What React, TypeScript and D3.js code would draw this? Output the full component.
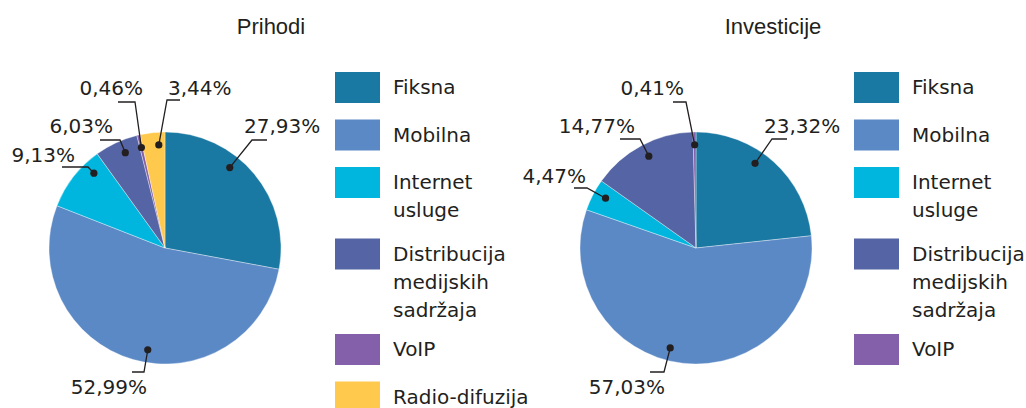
import React from "react";
import * as d3 from "d3";

const categories = ["Fiksna", "Mobilna", "Internet usluge", "Distribucija medijskih sadržaja", "VoIP", "Radio-difuzija"];
const legendLines = [["Fiksna"], ["Mobilna"], ["Internet", "usluge"], ["Distribucija", "medijskih", "sadržaja"], ["VoIP"], ["Radio-difuzija"]];
const prihodiValues = [27.93, 52.99, 9.13, 6.03, 0.46, 3.44];
const investicijeValues = [23.32, 57.03, 4.47, 14.77, 0.41];
const prihodiLabels = ["27,93%", "52,99%", "9,13%", "6,03%", "0,46%", "3,44%"];
const investicijeLabels = ["23,32%", "57,03%", "4,47%", "14,77%", "0,41%"];
const titles = ["Prihodi", "Investicije"];

const colors = ["#1a79a2", "#5b89c6", "#00b6de", "#5464a4", "#8460aa", "#fec94d"];

// label layout (relative to pie centre): elbow, horizontal end, text anchor
type LL = { ex: number; ey: number; hx: number; tx: number; ty: number; anchor: "start" | "end" };
const prihodiLayout: LL[] = [
  { ex: 87, ey: -108, hx: 102, tx: 79, ty: -115, anchor: "start" },
  { ex: -21, ey: 124, hx: -33, tx: -18, ty: 146, anchor: "end" },
  { ex: -77, ey: -81, hx: -103, tx: -90, ty: -86, anchor: "end" },
  { ex: -45, ey: -108, hx: -65, tx: -52, ty: -115, anchor: "end" },
  { ex: -30, ey: -146, hx: -47, tx: -22, ty: -153, anchor: "end" },
  { ex: 2, ey: -148, hx: 15, tx: 3, ty: -153, anchor: "start" },
];
const investicijeLayout: LL[] = [
  { ex: 76, ey: -109, hx: 91, tx: 68, ty: -115, anchor: "start" },
  { ex: -32, ey: 124, hx: -46, tx: -31, ty: 146, anchor: "end" },
  { ex: -109, ey: -60, hx: -122, tx: -110, ty: -65, anchor: "end" },
  { ex: -56, ey: -109, hx: -76, tx: -61, ty: -115, anchor: "end" },
  { ex: -10, ey: -146, hx: -23, tx: -12, ty: -153, anchor: "end" },
];

const R = 116;
const LABEL_FONT = "'DejaVu Sans', sans-serif";
const TITLE_FONT = "'Liberation Sans', Arial, sans-serif";

function Pie({ cx, values, labels, layout, title, titleX }: { cx: number; values: number[]; labels: string[]; layout: LL[]; title: string; titleX: number }) {
  const cy = 248;
  const pie = d3.pie<number>().sort(null).value((d) => d);
  const arcs = pie(values);
  const arc = d3.arc<d3.PieArcDatum<number>>().innerRadius(0).outerRadius(R);
  const dotR = R * 0.89;
  return (
    <g>
      <text x={titleX} y={34} textAnchor="middle" fontFamily={TITLE_FONT} fontSize={22} fill="#231f20">{title}</text>
      <g transform={`translate(${cx},${cy})`}>
        {arcs.map((a, i) => (
          <path key={i} d={arc(a) || ""} fill={colors[i]} stroke="#ffffff" strokeOpacity={0.6} strokeWidth={0.6} />
        ))}
        {arcs.map((a, i) => {
          const L = layout[i];
          const span = a.endAngle - a.startAngle;
          const margin = Math.min(span / 2, 0.06);
          const mid = (a.startAngle + a.endAngle) / 2;
          let ang = Math.atan2(L.ex, -L.ey);
          while (ang - mid > Math.PI) ang -= 2 * Math.PI;
          while (mid - ang > Math.PI) ang += 2 * Math.PI;
          ang = Math.max(a.startAngle + margin, Math.min(a.endAngle - margin, ang));
          const dx = dotR * Math.sin(ang);
          const dy = -dotR * Math.cos(ang);
          return (
            <g key={"l" + i}>
              <polyline points={`${dx},${dy} ${L.ex},${L.ey} ${L.hx},${L.ey}`} fill="none" stroke="#231f20" strokeWidth={1.3} />
              <circle cx={dx} cy={dy} r={3.6} fill="#231f20" />
              <text x={L.tx} y={L.ty} textAnchor={L.anchor} fontFamily={LABEL_FONT} fontSize={20} fill="#231f20">{labels[i]}</text>
            </g>
          );
        })}
      </g>
    </g>
  );
}

function Legend({ x, count }: { x: number; count: number }) {
  let y = 72;
  const items = [];
  for (let i = 0; i < count; i++) {
    const lines = legendLines[i];
    items.push(
      <g key={i}>
        <rect x={x} y={y} width={45} height={31} fill={colors[i]} />
        {lines.map((ln, j) => (
          <text key={j} x={x + 58} y={y + 22 + j * 28} fontFamily={LABEL_FONT} fontSize={20} fill="#231f20">{ln}</text>
        ))}
      </g>
    );
    y += 47.5 + 24 * (lines.length - 1);
  }
  return <g>{items}</g>;
}

export default function App() {
  return (
    <svg width={1026} height={408} style={{ position: "absolute", left: 0, top: 0, display: "block", background: "#fff" }}>
      <Pie cx={165} values={prihodiValues} labels={prihodiLabels} layout={prihodiLayout} title={titles[0]} titleX={271} />
      <Legend x={335} count={categories.length} />
      <Pie cx={696} values={investicijeValues} labels={investicijeLabels} layout={investicijeLayout} title={titles[1]} titleX={773} />
      <Legend x={854} count={investicijeValues.length} />
    </svg>
  );
}
